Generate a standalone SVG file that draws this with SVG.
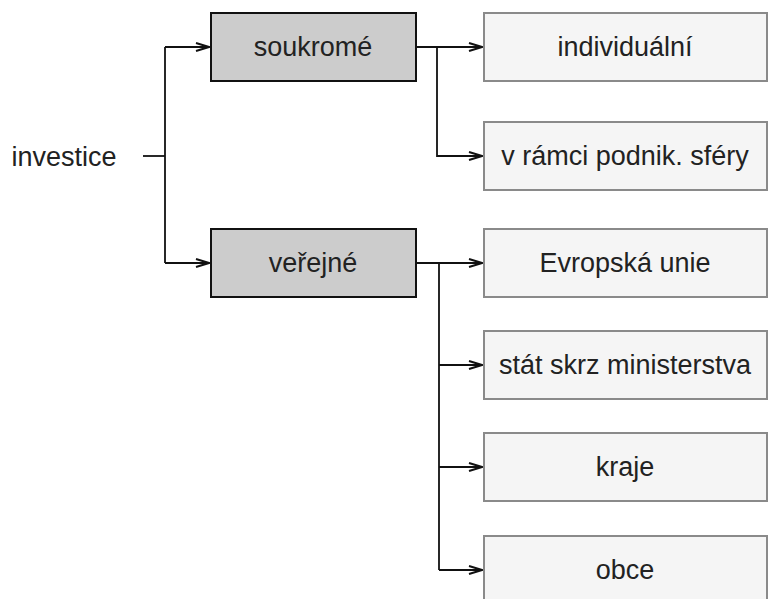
<svg xmlns="http://www.w3.org/2000/svg" width="769" height="599" viewBox="0 0 769 599">
<style>
  .lbl { font-family: "Liberation Sans", Arial, sans-serif; font-size: 27px; fill: #222; text-anchor: middle; dominant-baseline: central; }
  .grp rect { fill: #cccccc; stroke: #111; stroke-width: 2; }
  .leaf rect { fill: #f5f5f5; stroke: #8a8a8a; stroke-width: 2; }
  .conn path { fill: none; stroke: #111; stroke-width: 1.8; }
  .conn path.arr { marker-end: url(#arrow); }
</style>
<defs>
  <marker id="arrow" markerUnits="userSpaceOnUse" markerWidth="16" markerHeight="12" refX="14" refY="5" orient="auto">
    <path d="M1,1 L14,5 L1,9" fill="none" stroke="#111" stroke-width="2"/>
  </marker>
</defs>
<rect width="769" height="599" fill="#fff"/>
<g id="connectors" class="conn">
  <path d="M143,156 H165"/>
  <path d="M165,47 V263"/>
  <path class="arr" d="M165,47 H209"/>
  <path class="arr" d="M165,263 H209"/>
  <path class="arr" d="M416,47 H482"/>
  <path class="arr" d="M437,47 V156 H482"/>
  <path class="arr" d="M416,263 H482"/>
  <path d="M439,263 V570"/>
  <path class="arr" d="M439,365 H482"/>
  <path class="arr" d="M439,467 H482"/>
  <path class="arr" d="M439,570 H482"/>
</g>
<g id="investice">
  <text class="lbl" x="64" y="157">investice</text>
</g>
<g id="soukrome" class="grp">
  <rect x="211" y="13" width="205" height="68"/>
  <text class="lbl" x="313" y="47">soukromé</text>
</g>
<g id="verejne" class="grp">
  <rect x="211" y="229" width="205" height="68"/>
  <text class="lbl" x="313" y="263">veřejné</text>
</g>
<g id="individualni" class="leaf">
  <rect x="484" y="13" width="283" height="68"/>
  <text class="lbl" x="625" y="47">individuální</text>
</g>
<g id="podnik" class="leaf">
  <rect x="484" y="122" width="283" height="68"/>
  <text class="lbl" x="625" y="156">v rámci podnik. sféry</text>
</g>
<g id="eu" class="leaf">
  <rect x="484" y="229" width="283" height="68"/>
  <text class="lbl" x="625" y="263">Evropská unie</text>
</g>
<g id="stat" class="leaf">
  <rect x="484" y="331" width="283" height="68"/>
  <text class="lbl" x="625" y="365">stát skrz ministerstva</text>
</g>
<g id="kraje" class="leaf">
  <rect x="484" y="433" width="283" height="68"/>
  <text class="lbl" x="625" y="467">kraje</text>
</g>
<g id="obce" class="leaf">
  <rect x="484" y="536" width="283" height="68"/>
  <text class="lbl" x="625" y="570">obce</text>
</g>
</svg>
